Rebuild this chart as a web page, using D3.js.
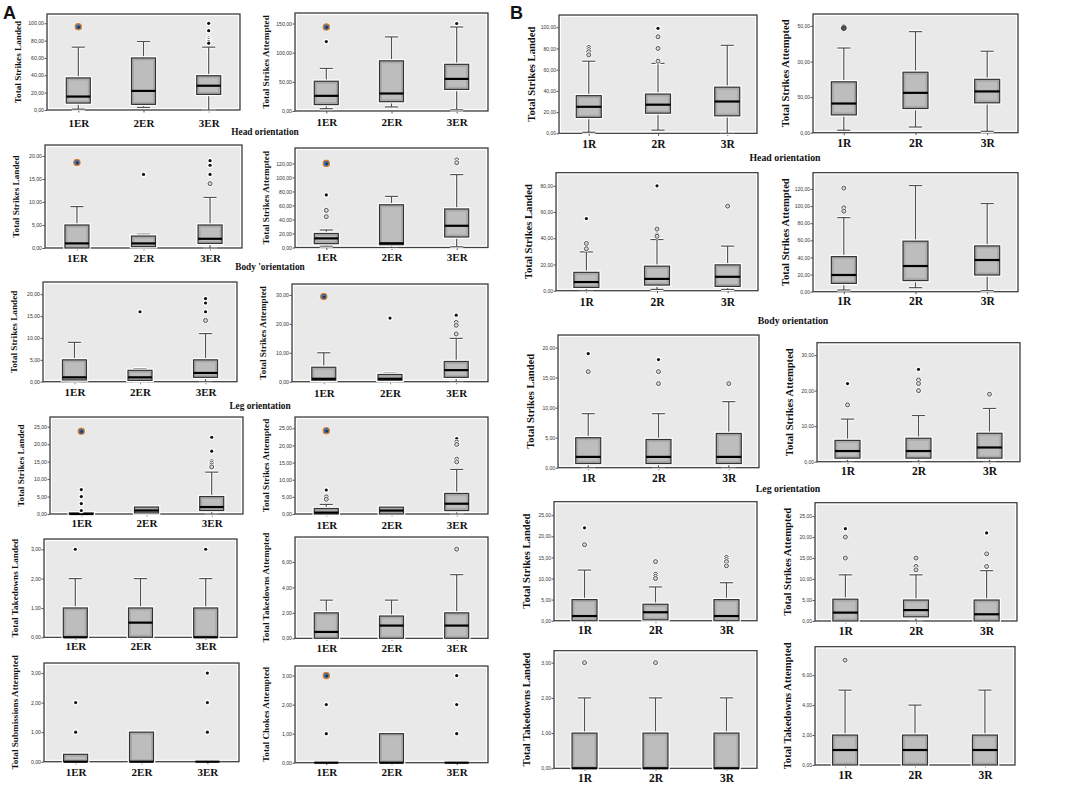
<!DOCTYPE html>
<html><head><meta charset="utf-8">
<script src="https://cdn.jsdelivr.net/npm/d3@7/dist/d3.min.js"></script>
<style>body{margin:0;background:#fff}svg{display:block}</style>
</head><body>
<svg id="c" width="1084" height="789"></svg>
<script>
// ---------- categories ----------
const catsA = ["1ER", "2ER", "3ER"];
const catsB = ["1R", "2R", "3R"];

// ---------- tick values ----------
const ticks0to100 = [0, 20, 40, 60, 80, 100];
const ticks0to150 = [0, 50, 100, 150];
const ticks0to20by5 = [0, 5, 10, 15, 20];
const ticks0to120 = [0, 20, 40, 60, 80, 100, 120];
const ticks0to30 = [0, 10, 20, 30];
const ticks0to25 = [0, 5, 10, 15, 20, 25];
const ticks0to3 = [0, 1, 2, 3];
const ticks0to6 = [0, 2, 4, 6];
const ticks0to80 = [0, 20, 40, 60, 80];
const bHeadAttTickLabels = ["0,00", "50,00", "00,00", "50,00"];

// ---------- box statistics: [low whisker, Q1, median, Q3, high whisker] per category ----------
// outliers: [category index, value, type]  type: "*" extreme, "o" outlier, "O" filled outlier, "e" special
// ---- Panel A ----
const aHeadLanded = [[1, 8, 15.5, 37, 72.5], [3, 6.5, 22, 60, 79], [0, 18, 28, 39.5, 72.5]];
const aHeadLandedOut = [[0, 96, "e"], [2, 100, "*"], [2, 91.5, "*"], [2, 83, "*"], [2, 81, "*"], [2, 79, "*"], [2, 77, "*"]];
const aHeadAttempted = [[4, 11, 26, 51, 73], [7, 16, 30, 86, 127], [2, 37, 55, 80, 144]];
const aHeadAttemptedOut = [[0, 144, "e"], [0, 119, "*"], [2, 150, "*"]];
const aBodyLanded = [[0, 0, 1, 5, 9], [0, 0.3, 1, 2.6, 3], [0, 1, 2, 5, 11]];
const aBodyLandedOut = [[0, 18.6, "e"], [1, 16, "*"], [2, 19, "*"], [2, 18, "*"], [2, 16, "*"], [2, 14, "o"]];
const aBodyAttempted = [[2, 5.5, 13, 20, 25], [0, 4, 6, 61, 73], [1, 15, 31, 55, 104]];
const aBodyAttemptedOut = [[0, 120, "e"], [0, 75, "*"], [0, 53, "o"], [0, 44, "o"], [2, 125, "o"], [2, 121, "o"]];
const aLegLanded = [[0, 0.4, 1, 5, 9], [0, 0.3, 1, 2.6, 3], [0, 1, 2, 5, 11]];
const aLegLandedOut = [[1, 16, "*"], [2, 19, "*"], [2, 18, "*"], [2, 16, "*"], [2, 14, "o"]];
const aLegAttempted = [[0, 0.5, 1, 5, 10], [0, 0.5, 1, 2.5, 3], [0, 1.5, 4, 7, 15]];
const aLegAttemptedOut = [[0, 29.5, "e"], [1, 22, "*"], [2, 23, "*"], [2, 20.5, "o"], [2, 19.5, "o"], [2, 16.5, "o"]];
const aRow4Landed = [[0, 0, 0, 0.3, 0.3], [0, 0.3, 1, 2, 2], [0, 1, 2, 5, 12]];
const aRow4LandedOut = [[0, 23.7, "e"], [0, 7, "*"], [0, 5, "*"], [0, 3, "*"], [0, 1, "*"], [2, 22, "*"], [2, 18, "*"], [2, 15, "o"], [2, 14.5, "o"], [2, 14, "o"], [2, 13.5, "o"]];
const aRow4Attempted = [[0, 0, 0.4, 1.6, 2.8], [0, 0, 1, 2, 2], [0, 1, 3, 6, 13]];
const aRow4AttemptedOut = [[0, 24.3, "e"], [0, 7, "*"], [0, 5, "o"], [0, 4.3, "o"], [2, 22, "*"], [2, 21, "o"], [2, 20.3, "o"], [2, 16, "o"], [2, 15.2, "o"]];
const aTakedownsLanded = [[0, 0, 0, 1, 2], [0, 0, 0.5, 1, 2], [0, 0, 0, 1, 2]];
const aTakedownsLandedOut = [[0, 3, "*"], [2, 3, "*"]];
const aTakedownsAttempted = [[0, 0, 0.5, 2, 3], [0, 0, 1, 1.75, 3], [0, 0, 1, 2, 5]];
const aTakedownsAttemptedOut = [[2, 7, "o"]];
const aSubmissions = [[0, 0, 0, 0.25, 0.25], [0, 0, 0, 1, 1], [0, 0, 0, 0, 0]];
const aSubmissionsOut = [[0, 2, "*"], [0, 1, "*"], [2, 3, "*"], [2, 2, "*"], [2, 1, "*"]];
const aChokes = [[0, 0, 0, 0, 0], [0, 0, 0, 1, 1], [0, 0, 0, 0, 0]];
const aChokesOut = [[0, 3, "e"], [0, 2, "*"], [0, 1, "*"], [2, 3, "*"], [2, 2, "*"], [2, 1, "*"]];
// ---- Panel B ----
const bHeadLanded = [[1, 15, 25, 35.5, 68], [3, 19, 27, 37, 66], [0, 16.5, 30, 43.5, 83]];
const bHeadLandedOut = [[0, 81, "o"], [0, 79, "o"], [0, 77, "o"], [0, 74, "o"], [1, 99, "*"], [1, 91, "o"], [1, 80, "o"], [1, 69, "o"], [1, 68, "o"]];
const bHeadAttempted = [[3.5, 25, 41, 71.5, 119], [8, 34, 56, 85, 142], [2, 42, 58, 75, 114.5]];
const bHeadAttemptedOut = [[0, 148, "O"], [0, 147, "O"]];
const bBodyLanded = [[0, 2.5, 6.6, 14, 29.6], [1, 4.3, 9, 18.7, 39], [1, 3.3, 10.6, 19.7, 34]];
const bBodyLandedOut = [[0, 55, "*"], [0, 36, "o"], [0, 32, "o"], [1, 80, "*"], [1, 47, "o"], [1, 42.5, "o"], [1, 41.5, "o"], [2, 64.5, "o"]];
const bBodyAttempted = [[2, 9.7, 19.5, 41, 86.5], [4.7, 13, 30, 59, 124], [1.2, 19.5, 37, 53.5, 103]];
const bBodyAttemptedOut = [[0, 121, "o"], [0, 98, "o"], [0, 94, "o"]];
const bLegLanded = [[0, 0.7, 1.8, 5, 9], [0, 0.7, 1.8, 4.7, 9], [0, 0.7, 1.8, 5.7, 11]];
const bLegLandedOut = [[0, 19, "*"], [0, 16, "o"], [1, 18, "*"], [1, 16, "o"], [1, 14, "o"], [2, 14, "o"]];
const bLegAttempted = [[0, 1, 3, 6, 12], [0, 1, 3, 6.6, 13], [0, 1, 4, 8, 15]];
const bLegAttemptedOut = [[0, 22, "*"], [0, 16, "o"], [1, 26, "*"], [1, 23, "o"], [1, 22, "o"], [1, 20, "o"], [2, 19, "o"]];
const bRow4Landed = [[0, 0, 1.1, 5, 12], [0, 0.2, 2, 3.9, 8], [0, 0, 1.1, 5, 9]];
const bRow4LandedOut = [[0, 22, "*"], [0, 18, "o"], [1, 14, "o"], [1, 11, "o"], [1, 10.5, "o"], [1, 10, "o"], [2, 15, "o"], [2, 14.5, "o"], [2, 14, "o"], [2, 13, "o"]];
const bRow4Attempted = [[0, 0, 2, 5.2, 11], [0, 1, 2.6, 5, 11], [0, 0, 1.6, 5, 12]];
const bRow4AttemptedOut = [[0, 22, "*"], [0, 20, "o"], [0, 15, "o"], [1, 15, "o"], [1, 13, "o"], [1, 12.2, "o"], [2, 21, "*"], [2, 16, "o"], [2, 13, "o"]];
const bTakedownsLanded = [[0, 0, 0, 1, 2], [0, 0, 0, 1, 2], [0, 0, 0, 1, 2]];
const bTakedownsLandedOut = [[0, 3, "o"], [1, 3, "o"]];
const bTakedownsAttempted = [[0, 0, 1, 2, 5], [0, 0, 1, 2, 4], [0, 0, 1, 2, 5]];
const bTakedownsAttemptedOut = [[0, 7, "o"]];

// ---------- layout (positions only) ----------
// x0,x1: frame; yt: frame top; yz: zero line; ly: category label y; max: axis top value
const A = {cats: catsA, pad: 0.48, bw: 24, tfs: 9.2, cfs: 11, kfs: 5.2, tdx: 28};
const B = {cats: catsB, pad: 0.43, bw: 25, tfs: 10.6, cfs: 11.5, kfs: 5, tdx: 26};
const panels = [
  [A, aHeadLanded, aHeadLandedOut, ticks0to100, null, "Total Strikes Landed", 47, 240, 14, 110, 123, 110.7],
  [A, aHeadAttempted, aHeadAttemptedOut, ticks0to150, null, "Total Strikes Attempted", 295, 488, 13, 111, 122.5, 168],
  [A, aBodyLanded, aBodyLandedOut, ticks0to20by5, null, "Total Strikes Landed", 45, 242, 145, 248, 258, 22.4],
  [A, aBodyAttempted, aBodyAttemptedOut, ticks0to120, null, "Total Strikes Attempted", 295, 488, 148, 247.5, 257, 142],
  [A, aLegLanded, aLegLandedOut, ticks0to20by5, null, "Total Strikes Landed", 43, 237, 282, 381.7, 392, 22.8],
  [A, aLegAttempted, aLegAttemptedOut, ticks0to30, null, "Total Strikes Attempted", 292, 488, 284, 381.7, 393, 33.8],
  [A, aRow4Landed, aRow4LandedOut, ticks0to25, null, "Total Strikes Landed", 50, 243, 417, 514, 523.5, 27.8],
  [A, aRow4Attempted, aRow4AttemptedOut, ticks0to25, null, "Total Strikes Attempted", 295, 488, 417, 514, 525, 28.3],
  [A, aTakedownsLanded, aTakedownsLandedOut, ticks0to3, null, "Total Takedowns Landed", 44, 237, 539, 637.3, 646.5, 3.35],
  [A, aTakedownsAttempted, aTakedownsAttemptedOut, ticks0to6, null, "Total Takedowns Attempted", 295, 488, 537, 638.3, 648, 7.96],
  [A, aSubmissions, aSubmissionsOut, ticks0to3, null, "Total Submissions Attempted", 44, 239, 663, 761.7, 772, 3.34],
  [A, aChokes, aChokesOut, ticks0to3, null, "Total Chokes Attempted", 295, 488, 666, 762.7, 772, 3.33],
  [B, bHeadLanded, bHeadLandedOut, ticks0to100, null, "Total Strikes Landed", 559, 757, 15, 133.3, 144, 111.6],
  [B, bHeadAttempted, bHeadAttemptedOut, ticks0to150, bHeadAttTickLabels, "Total Strikes Attempted", 813, 1018, 14, 132.7, 142.5, 166.8],
  [B, bBodyLanded, bBodyLandedOut, ticks0to80, null, "Total Strikes Landed", 556, 758, 172.7, 290.7, 302, 90],
  [B, bBodyAttempted, bBodyAttemptedOut, ticks0to120, null, "Total Strikes Attempted", 813, 1018, 172.7, 291.7, 301, 139],
  [B, bLegLanded, bLegLandedOut, ticks0to20by5, null, "Total Strikes Landed", 558, 759, 335, 467.7, 478, 22.1],
  [B, bLegAttempted, bLegAttemptedOut, ticks0to30, null, "Total Strikes Attempted", 817, 1020, 342.7, 461.7, 471, 33.5],
  [B, bRow4Landed, bRow4LandedOut, ticks0to25, null, "Total Strikes Landed", 554, 757, 501.7, 620.7, 630, 28.2],
  [B, bRow4Attempted, bRow4AttemptedOut, ticks0to25, null, "Total Strikes Attempted", 815, 1017, 502.7, 621, 631, 28.2],
  [B, bTakedownsLanded, bTakedownsLandedOut, ticks0to3, null, "Total Takedowns Landed", 554, 757, 650.7, 768.3, 778, 3.34],
  [B, bTakedownsAttempted, bTakedownsAttemptedOut, ticks0to6, null, "Total Takedowns Attempted", 815, 1015, 646.7, 765, 775, 7.9]
];
const sectionLabels = [
  ["Head orientation", 265, 133, 9.3], ["Body 'orientation", 270, 268, 9.3], ["Leg  orientation", 260, 407, 9.3],
  ["Head orientation", 785, 159, 9.8], ["Body orientation", 793, 322, 9.8], ["Leg orientation", 788, 490, 9.8]
];

// ---------- drawing ----------
const svg = d3.select("#c");
svg.append("rect").attr("width", 1084).attr("height", 789).attr("fill", "#fff");
const fmt = v => d3.format(".2f")(v).replace(".", ",");
const SERIF = "'Liberation Serif','Times New Roman',serif";
const SANS = "'Liberation Sans',Arial,sans-serif";

function drawPanel(cfg) {
  const [S, box, out, ticks, tickLabels, title, x0, x1, yt, yz, ly, max] = cfg;
  const g = svg.append("g");
  const x = d3.scalePoint().domain(S.cats).range([x0, x1]).padding(S.pad);
  const y = d3.scaleLinear().domain([0, max]).range([yz, yt]);

  g.append("rect").attr("x", x0).attr("y", yt).attr("width", x1 - x0).attr("height", yz - yt)
    .attr("fill", "#e9e9e9").attr("stroke", "#404040").attr("stroke-width", 1.3);
  g.append("rect").attr("x", x0 + 1.5).attr("y", yt + 1.5).attr("width", x1 - x0 - 3).attr("height", yz - yt - 3)
    .attr("fill", "none").attr("stroke", "#fff").attr("stroke-width", 1);

  // y axis
  const ay = d3.axisLeft(y).tickValues(ticks).tickSize(2.5).tickPadding(0.5)
    .tickFormat((d, i) => tickLabels ? tickLabels[i] : fmt(d));
  const gy = g.append("g").attr("transform", `translate(${x0},0)`).call(ay);
  gy.select(".domain").remove();
  gy.selectAll("line").attr("stroke", "#555");
  gy.selectAll("text").attr("font-size", S.kfs).attr("font-family", SANS).attr("fill", "#333");

  // x axis
  const ax = d3.axisBottom(x).tickSize(2.5).tickPadding(2);
  const gx = g.append("g").attr("transform", `translate(0,${yz})`).call(ax);
  gx.select(".domain").remove();
  gx.selectAll("line").attr("stroke", "#555");
  gx.selectAll("text").attr("y", ly - yz).attr("dy", "0.35em")
    .attr("font-size", S.cfs).attr("font-weight", "bold").attr("font-family", SERIF).attr("fill", "#111");

  // y title
  g.append("text").attr("transform", `translate(${x0 - S.tdx},${(yt + yz) / 2}) rotate(-90)`)
    .attr("text-anchor", "middle").attr("dominant-baseline", "middle")
    .attr("font-size", S.tfs).attr("font-weight", "bold").attr("font-family", SERIF).attr("fill", "#111")
    .text(title);

  // boxes
  const hw = S.bw / 2, cw = 6.5;
  box.forEach((s, i) => {
    const cx = x(S.cats[i]);
    const [lo, q1, md, q3, hi] = s;
    const wg = g.append("g");
    [[q3, hi], [q1, lo]].forEach(([a, b]) => {
      if (a === b) return;
      wg.append("line").attr("x1", cx).attr("x2", cx).attr("y1", y(a)).attr("y2", y(b))
        .attr("stroke", "#fff").attr("stroke-width", 3);
      wg.append("line").attr("x1", cx - cw).attr("x2", cx + cw).attr("y1", y(b)).attr("y2", y(b))
        .attr("stroke", "#fff").attr("stroke-width", 3.2);
    });
    [[q3, hi], [q1, lo]].forEach(([a, b]) => {
      if (a === b) return;
      wg.append("line").attr("x1", cx).attr("x2", cx).attr("y1", y(a)).attr("y2", y(b))
        .attr("stroke", "#505050").attr("stroke-width", 1.2);
      wg.append("line").attr("x1", cx - cw).attr("x2", cx + cw).attr("y1", y(b)).attr("y2", y(b))
        .attr("stroke", "#505050").attr("stroke-width", 1.2);
    });
    const top = y(q3), bot = y(q1), h = bot - top;
    if (h > 0.5) {
      wg.append("rect").attr("x", cx - hw).attr("y", top).attr("width", S.bw).attr("height", h)
        .attr("fill", "none").attr("stroke", "#fff").attr("stroke-width", 3.6);
      wg.append("rect").attr("x", cx - hw).attr("y", top).attr("width", S.bw).attr("height", h)
        .attr("fill", "#a9a9a9").attr("stroke", "#333").attr("stroke-width", 1.2);
      if (h > 6) {
        wg.append("rect").attr("x", cx - hw + 2.5).attr("y", top + 2.5).attr("width", S.bw - 5).attr("height", h - 5)
          .attr("fill", "#bdbdbd");
      }
    }
    wg.append("line").attr("x1", cx - hw).attr("x2", cx + hw).attr("y1", y(md)).attr("y2", y(md))
      .attr("stroke", "#000").attr("stroke-width", 2.2);
  });

  // outliers
  out.forEach(([ci, v, t]) => {
    const cx = x(S.cats[ci]), cy = y(v);
    if (t === "e") {
      g.append("circle").attr("cx", cx).attr("cy", cy).attr("r", 4.3).attr("fill", "#fff");
      g.append("circle").attr("cx", cx).attr("cy", cy).attr("r", 3.2).attr("fill", "#3f6db0")
        .attr("stroke", "#d9822b").attr("stroke-width", 1.2);
      g.append("circle").attr("cx", cx + 0.4).attr("cy", cy + 0.4).attr("r", 1.2).attr("fill", "#2a2a2a");
    } else if (t === "*") {
      g.append("circle").attr("cx", cx).attr("cy", cy).attr("r", 2.8).attr("fill", "#fff");
      g.append("circle").attr("cx", cx).attr("cy", cy).attr("r", 1.6).attr("fill", "#111");
    } else if (t === "O") {
      g.append("circle").attr("cx", cx).attr("cy", cy).attr("r", 3.2).attr("fill", "#fff");
      g.append("circle").attr("cx", cx).attr("cy", cy).attr("r", 2.4).attr("fill", "#555")
        .attr("stroke", "#222").attr("stroke-width", 0.9);
    } else {
      g.append("circle").attr("cx", cx).attr("cy", cy).attr("r", 3.1).attr("fill", "#fff");
      g.append("circle").attr("cx", cx).attr("cy", cy).attr("r", 2).attr("fill", "#d6d6d6")
        .attr("stroke", "#444").attr("stroke-width", 0.9);
    }
  });
}
panels.forEach(drawPanel);

svg.selectAll("text.sec").data(sectionLabels).join("text").attr("class", "sec")
  .attr("x", d => d[1]).attr("y", d => d[2]).attr("text-anchor", "middle").attr("dominant-baseline", "middle")
  .attr("font-size", d => d[3]).attr("font-weight", "bold").attr("font-family", SERIF).attr("fill", "#111")
  .text(d => d[0]);

svg.append("text").attr("x", 3).attr("y", 19).attr("font-size", 18).attr("font-weight", "bold")
  .attr("font-family", SANS).attr("fill", "#111").text("A");
svg.append("text").attr("x", 510).attr("y", 19).attr("font-size", 18).attr("font-weight", "bold")
  .attr("font-family", SANS).attr("fill", "#111").text("B");
</script>
</body></html>
